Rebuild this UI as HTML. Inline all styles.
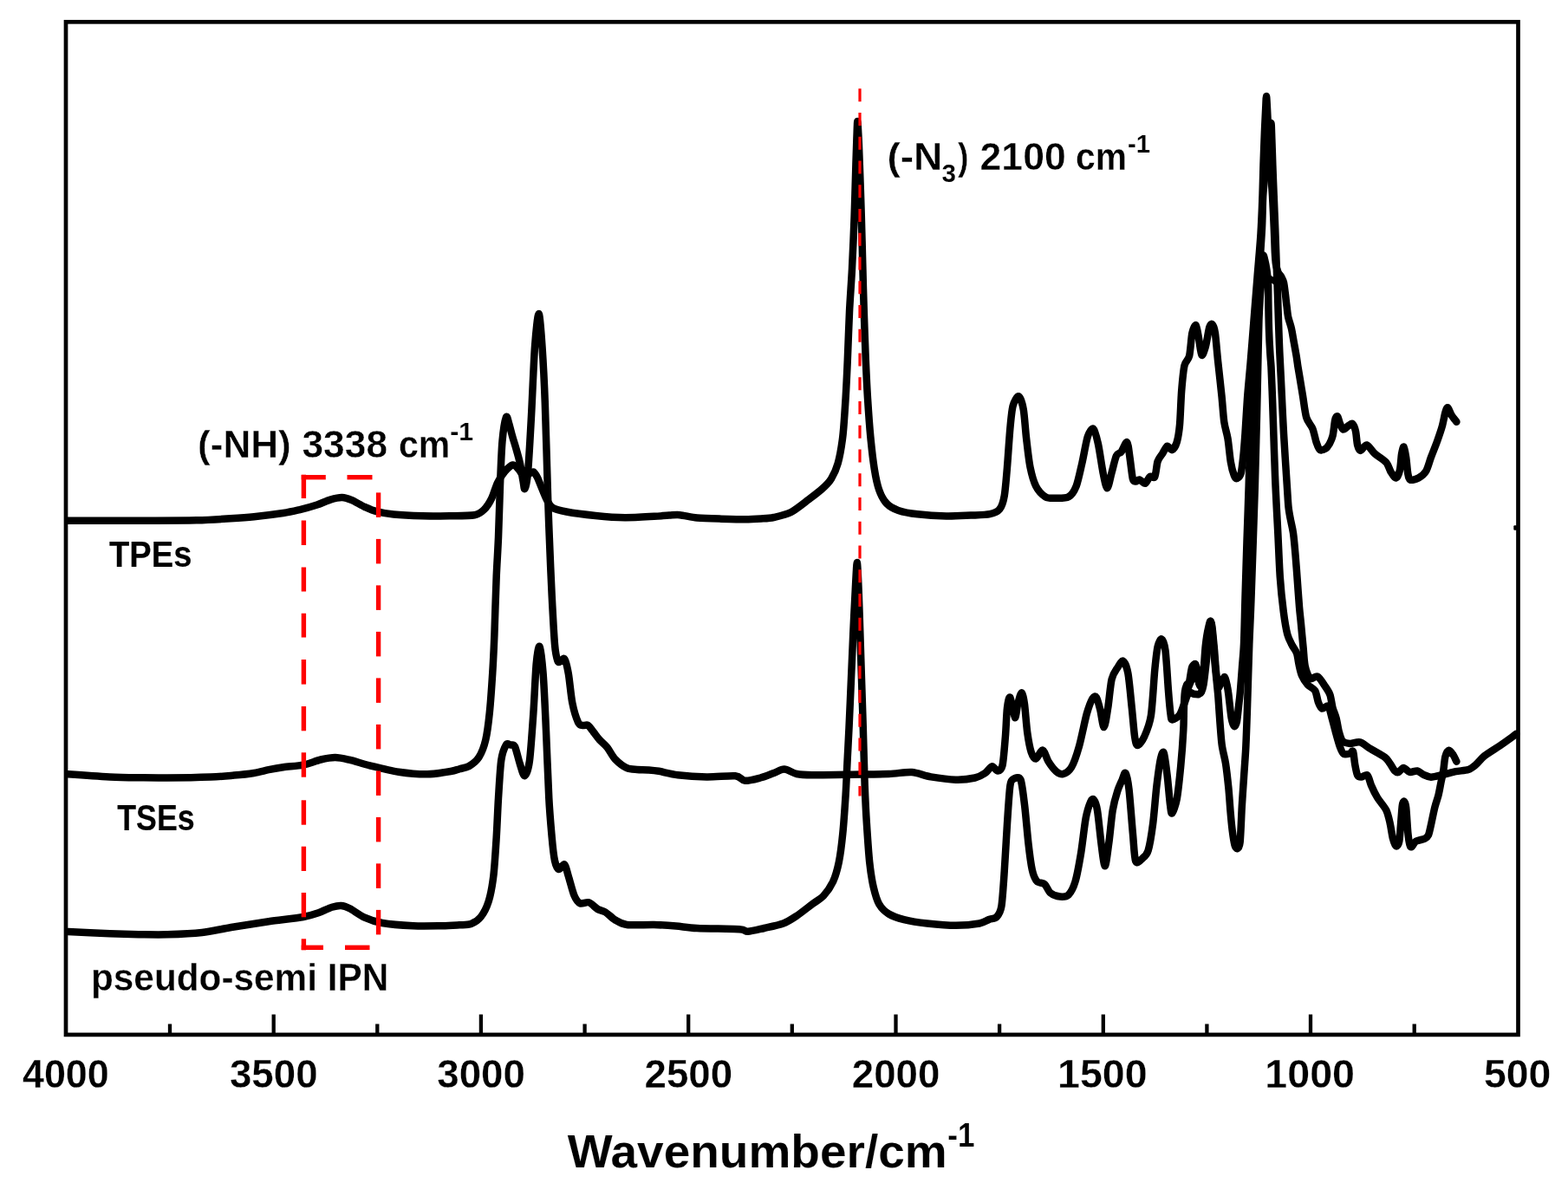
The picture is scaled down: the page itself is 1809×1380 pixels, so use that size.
<!DOCTYPE html>
<html lang="en"><head><meta charset="utf-8"><title>FTIR spectra</title>
<style>html,body{margin:0;padding:0;background:#fff}svg{display:block}</style></head>
<body>
<svg width="1809" height="1380" viewBox="0 0 1809 1380">
<rect x="0" y="0" width="1809" height="1380" fill="#fff"/>
<g>
<rect x="0" y="0" width="1809" height="1380" fill="#fff"/>
<path id="tpe" d="M78.6 600.8C88.7 600.8 129.0 600.9 150.0 600.8C171.0 600.7 210.3 600.7 226.7 600.3C243.1 599.9 256.6 598.9 266.0 598.3C275.4 597.7 284.4 597.1 293.0 596.2C301.6 595.3 319.3 593.1 326.7 592.0C334.1 590.9 339.5 589.6 345.0 588.3C350.5 587.0 360.7 584.2 365.8 582.5C370.9 580.8 376.9 577.8 381.0 576.6C385.1 575.4 391.1 573.9 394.6 574.0C398.1 574.1 402.3 575.6 406.0 577.2C409.7 578.8 417.0 583.2 421.0 585.0C425.0 586.8 429.7 589.0 434.4 590.2C439.1 591.4 446.5 592.8 454.0 593.5C461.5 594.2 477.6 595.0 487.0 595.3C496.4 595.6 511.4 595.4 520.0 595.3C528.6 595.2 542.0 595.3 547.5 594.3C553.0 593.3 555.7 590.7 558.5 588.0C561.3 585.3 564.8 579.9 567.0 575.5C569.2 571.1 571.8 561.5 574.0 557.0C576.2 552.5 580.0 546.9 582.5 544.0C585.0 541.1 589.4 536.9 591.6 536.5C593.8 536.1 596.2 539.2 598.0 541.0C599.8 542.8 602.3 548.1 604.0 549.0C605.7 549.9 608.4 547.6 610.0 547.0C611.6 546.4 614.0 543.9 615.4 544.5C616.8 545.1 618.7 548.6 620.0 551.0C621.3 553.4 622.7 557.7 624.3 561.4C625.9 565.1 629.1 573.5 631.0 577.0C632.9 580.5 634.6 584.1 637.8 586.0C641.0 587.9 646.5 589.2 653.5 590.5C660.5 591.8 677.4 594.0 687.0 595.0C696.6 596.0 711.4 597.2 721.0 597.3C730.6 597.4 747.4 596.2 754.6 595.8C761.8 595.4 767.8 594.8 772.0 594.6C776.2 594.4 779.7 593.8 784.3 594.2C788.9 594.6 797.7 596.9 804.2 597.5C810.7 598.1 822.2 598.4 830.0 598.6C837.8 598.8 852.7 599.2 859.5 599.2C866.3 599.2 873.3 598.8 878.0 598.5C882.7 598.2 887.8 598.1 892.7 597.0C897.6 595.9 907.0 593.9 912.6 591.0C918.2 588.1 927.5 580.5 932.5 576.7C937.5 572.9 944.2 567.9 948.0 564.5C951.8 561.1 956.4 556.6 959.0 552.4C961.6 548.2 964.8 541.6 966.7 534.7C968.6 527.8 971.0 514.4 972.3 503.7C973.6 493.0 974.8 472.0 975.6 459.5C976.4 447.0 977.2 429.4 977.8 415.3C978.4 401.2 979.3 374.9 980.0 360.0C980.7 345.1 982.2 325.6 983.0 310.0C983.8 294.4 985.0 267.0 985.6 250.0C986.2 233.0 987.0 202.8 987.4 190.0C987.8 177.2 988.1 167.1 988.4 160.0C988.7 152.9 989.0 140.0 989.3 140.0C989.6 140.0 990.2 152.9 990.6 160.0C991.0 167.1 991.3 177.2 991.8 190.0C992.3 202.8 993.3 233.0 993.8 250.0C994.3 267.0 995.0 294.4 995.4 310.0C995.8 325.6 996.3 345.1 996.8 360.0C997.3 374.9 998.2 401.2 998.8 415.3C999.4 429.4 1000.2 447.0 1001.0 459.5C1001.8 472.0 1003.2 492.1 1004.3 503.7C1005.4 515.3 1007.4 532.5 1008.8 541.3C1010.2 550.1 1012.3 560.0 1014.3 565.6C1016.3 571.2 1019.9 577.7 1023.0 581.0C1026.1 584.3 1031.4 587.2 1036.4 588.9C1041.4 590.6 1050.7 592.4 1058.5 593.3C1066.3 594.2 1083.0 595.3 1091.7 595.5C1100.4 595.7 1112.9 594.9 1120.0 594.6C1127.1 594.3 1137.3 594.2 1142.0 593.2C1146.7 592.2 1150.8 590.7 1153.2 587.7C1155.6 584.7 1157.5 579.1 1158.7 572.2C1159.9 565.3 1161.1 550.0 1162.0 539.0C1162.9 528.0 1164.4 504.8 1165.3 494.8C1166.2 484.8 1167.2 473.6 1168.6 468.3C1170.0 463.0 1173.6 456.6 1175.3 457.2C1177.0 457.8 1179.6 465.8 1180.8 472.7C1182.0 479.6 1183.0 496.4 1184.1 505.8C1185.2 515.2 1186.9 531.2 1188.5 539.0C1190.1 546.8 1192.7 556.2 1195.2 561.1C1197.7 566.0 1203.1 571.4 1206.2 573.3C1209.3 575.2 1213.5 574.8 1217.3 574.8C1221.1 574.8 1229.4 575.2 1232.8 573.3C1236.2 571.4 1239.4 566.6 1241.6 561.1C1243.8 555.6 1246.4 542.7 1248.3 534.6C1250.2 526.5 1253.0 509.2 1254.9 503.6C1256.8 498.0 1259.8 493.5 1261.5 494.8C1263.2 496.1 1265.4 505.3 1267.0 512.5C1268.6 519.7 1271.1 538.4 1272.6 545.6C1274.1 552.8 1276.0 563.3 1277.4 563.3C1278.8 563.3 1281.0 550.9 1282.5 545.6C1284.0 540.3 1286.4 529.1 1288.0 525.7C1289.6 522.3 1291.9 523.5 1293.6 521.3C1295.3 519.1 1298.8 509.4 1300.2 510.3C1301.6 511.2 1302.6 522.0 1303.5 528.0C1304.4 534.0 1305.9 548.4 1306.8 552.3C1307.7 556.2 1309.1 555.4 1310.2 555.6C1311.3 555.8 1313.0 553.1 1314.6 553.4C1316.2 553.7 1319.5 558.3 1321.2 557.8C1322.9 557.3 1325.1 551.1 1326.7 550.0C1328.3 548.9 1331.0 552.5 1332.3 550.0C1333.6 547.5 1334.4 536.2 1335.6 532.4C1336.8 528.6 1339.5 526.0 1341.1 523.5C1342.7 521.0 1345.0 515.3 1346.6 514.7C1348.2 514.1 1350.6 519.7 1352.2 519.1C1353.8 518.5 1356.5 514.4 1357.7 510.3C1358.9 506.2 1360.2 498.9 1361.0 490.4C1361.8 481.9 1362.4 460.3 1363.2 450.6C1364.0 440.9 1365.2 427.4 1366.5 421.8C1367.8 416.2 1370.8 416.1 1372.1 410.8C1373.4 405.5 1374.3 389.2 1375.4 384.2C1376.5 379.2 1378.7 374.5 1379.8 375.4C1380.9 376.3 1382.2 386.0 1383.1 390.9C1384.0 395.8 1385.3 408.5 1386.4 409.7C1387.5 410.9 1389.6 404.2 1390.9 399.7C1392.2 395.2 1394.2 381.2 1395.3 377.6C1396.4 374.0 1397.7 373.4 1398.6 374.3C1399.5 375.2 1401.0 378.1 1401.9 384.2C1402.8 390.3 1404.1 407.1 1405.2 417.4C1406.3 427.7 1408.5 447.1 1409.5 457.0C1410.5 466.9 1411.3 480.1 1412.3 487.0C1413.3 493.9 1415.4 499.5 1416.5 506.0C1417.6 512.5 1418.8 526.7 1419.8 532.7C1420.8 538.7 1422.8 545.9 1423.8 548.6C1424.8 551.3 1426.1 552.4 1427.2 552.0C1428.3 551.6 1430.7 549.7 1431.7 546.0C1432.7 542.3 1433.7 532.5 1434.4 526.0C1435.1 519.5 1435.8 509.4 1436.5 500.0C1437.2 490.6 1438.2 471.3 1439.0 460.0C1439.8 448.7 1441.4 432.8 1442.5 420.0C1443.6 407.2 1445.4 384.2 1446.5 370.0C1447.6 355.8 1449.4 334.2 1450.5 320.0C1451.6 305.8 1453.7 283.3 1454.5 270.0C1455.3 256.7 1456.1 237.3 1456.5 226.0C1456.9 214.7 1457.1 200.8 1457.5 190.0C1457.9 179.2 1458.6 159.2 1459.0 150.0C1459.4 140.8 1459.9 130.5 1460.2 125.0C1460.5 119.5 1460.7 111.0 1461.0 111.0C1461.3 111.0 1461.7 119.5 1462.0 125.0C1462.3 130.5 1462.7 140.8 1463.2 150.0C1463.7 159.2 1464.8 179.2 1465.5 190.0C1466.2 200.8 1467.4 215.7 1468.0 226.0C1468.6 236.3 1469.4 253.9 1469.8 263.0C1470.2 272.1 1470.5 284.1 1470.8 290.0C1471.1 295.9 1471.5 301.6 1472.0 305.0C1472.5 308.4 1473.7 312.0 1474.5 314.0C1475.3 316.0 1477.1 317.3 1478.0 319.0C1478.9 320.7 1480.3 323.0 1481.0 326.0C1481.7 329.0 1482.5 336.2 1483.0 340.0C1483.5 343.8 1484.0 349.3 1484.5 353.0C1485.0 356.7 1485.4 362.3 1486.2 366.0C1487.0 369.7 1489.1 375.2 1490.0 379.3C1490.9 383.4 1492.0 390.7 1492.8 395.0C1493.6 399.3 1494.8 406.0 1495.5 410.0C1496.2 414.0 1496.8 419.3 1497.4 423.0C1498.0 426.7 1498.8 431.3 1499.6 436.0C1500.4 440.7 1501.8 449.5 1502.9 456.0C1504.0 462.5 1505.6 476.3 1507.2 481.8C1508.8 487.3 1512.8 490.6 1514.4 494.7C1516.0 498.8 1517.5 507.0 1518.7 510.5C1519.9 514.0 1521.3 518.4 1523.0 519.2C1524.7 520.0 1528.9 518.5 1530.9 516.3C1532.9 514.1 1536.1 507.9 1537.4 503.4C1538.7 498.9 1539.4 488.0 1540.2 484.7C1541.0 481.4 1542.3 479.8 1543.1 480.4C1543.9 481.0 1545.1 486.9 1546.0 489.0C1546.9 491.1 1548.2 495.2 1549.6 495.5C1551.0 495.8 1554.5 491.9 1556.0 491.0C1557.5 490.1 1559.3 488.1 1560.4 489.0C1561.5 489.9 1563.2 494.1 1564.0 497.6C1564.8 501.1 1565.3 510.2 1566.1 513.4C1566.9 516.6 1568.2 519.9 1569.7 519.9C1571.2 519.9 1574.6 512.9 1576.9 513.4C1579.2 513.9 1583.0 520.7 1586.2 523.5C1589.4 526.3 1596.6 530.5 1599.2 533.5C1601.8 536.5 1603.3 542.5 1604.9 545.0C1606.5 547.5 1609.3 551.9 1610.7 551.5C1612.1 551.1 1614.1 546.2 1615.0 542.2C1615.9 538.2 1616.4 527.3 1617.1 523.5C1617.8 519.7 1618.9 515.0 1619.6 515.6C1620.3 516.2 1621.5 523.4 1622.2 527.8C1622.9 532.2 1623.6 542.8 1624.3 546.5C1625.0 550.2 1625.5 553.0 1627.2 553.7C1628.9 554.4 1634.0 552.9 1636.5 551.5C1639.0 550.1 1643.2 547.0 1645.2 543.6C1647.2 540.2 1649.1 532.7 1650.9 527.8C1652.7 522.9 1656.3 514.2 1658.1 509.1C1659.9 504.0 1662.5 496.6 1663.8 491.9C1665.1 487.2 1666.5 479.1 1667.4 476.0C1668.3 472.9 1669.3 469.9 1670.3 470.3C1671.3 470.7 1673.2 476.7 1674.6 479.0C1676.0 481.3 1679.6 485.7 1680.4 486.8" fill="none" stroke="#000" stroke-width="8.5" stroke-linejoin="round" stroke-linecap="round"/>
<path id="tse" d="M78.6 893.3C85.4 893.8 115.2 895.9 126.7 896.5C138.2 897.1 150.6 897.2 160.0 897.3C169.4 897.4 181.2 897.6 193.0 897.5C204.8 897.4 232.1 896.9 243.0 896.5C253.9 896.1 262.9 895.2 270.0 894.6C277.1 894.0 287.3 892.9 293.0 892.0C298.7 891.1 305.2 889.2 310.0 888.2C314.8 887.2 321.0 886.0 326.7 885.2C332.4 884.4 343.9 883.8 350.0 882.6C356.1 881.4 364.8 877.7 370.0 876.5C375.2 875.3 382.0 874.0 386.7 874.0C391.4 874.0 397.3 875.4 403.0 876.7C408.7 878.0 418.6 881.3 426.7 883.3C434.8 885.3 450.6 889.3 460.0 890.7C469.4 892.1 484.5 893.4 493.0 893.3C501.5 893.2 514.8 890.9 520.0 890.0C525.2 889.1 527.0 888.1 530.0 887.3C533.0 886.4 538.0 885.9 541.2 884.0C544.4 882.1 549.8 878.1 552.5 873.8C555.2 869.5 558.6 860.9 560.3 853.6C562.0 846.3 563.7 833.0 564.8 822.2C565.9 811.4 567.4 789.9 568.2 777.2C569.0 764.5 569.8 748.2 570.4 732.3C571.0 716.4 572.0 680.9 572.7 665.0C573.4 649.1 574.4 634.9 575.0 620.0C575.6 605.1 576.4 575.7 577.0 560.0C577.6 544.3 578.5 520.1 579.5 509.0C580.5 497.9 582.8 484.5 583.9 481.5C585.0 478.5 586.0 485.0 587.0 488.0C588.0 491.0 589.8 498.8 591.0 503.0C592.2 507.2 594.2 513.5 595.5 518.0C596.8 522.5 598.9 529.8 600.0 535.0C601.1 540.2 602.7 550.9 603.5 555.0C604.3 559.1 604.7 565.4 605.5 564.0C606.3 562.6 607.9 556.9 609.0 545.0C610.1 533.1 611.9 500.5 613.0 480.0C614.1 459.5 615.8 416.7 617.0 400.0C618.2 383.3 620.4 362.0 621.6 362.0C622.8 362.0 624.5 385.4 625.5 400.0C626.5 414.6 627.9 439.7 628.8 464.8C629.7 489.9 631.5 555.0 632.2 577.0C632.9 599.0 633.2 604.4 633.8 620.0C634.4 635.6 635.8 669.9 636.7 687.4C637.6 704.9 639.1 732.8 640.0 743.5C640.9 754.2 642.4 759.8 643.4 762.6C644.4 765.4 645.9 763.3 647.0 763.0C648.1 762.7 650.1 758.4 651.3 760.4C652.5 762.4 654.5 770.0 655.8 777.2C657.1 784.4 658.7 803.0 660.3 811.0C661.9 819.0 665.3 829.7 667.0 833.4C668.7 837.1 670.4 836.5 672.0 837.0C673.6 837.5 676.5 835.7 678.3 836.8C680.1 837.9 683.1 842.6 685.0 845.0C686.9 847.4 689.5 851.1 691.7 853.6C693.9 856.1 698.2 859.4 700.7 862.6C703.2 865.8 706.5 872.7 709.7 876.0C712.9 879.3 719.6 884.5 723.2 886.2C726.8 887.9 731.5 887.7 735.0 888.0C738.5 888.3 744.4 888.1 747.9 888.4C751.4 888.7 755.2 889.0 760.0 889.8C764.8 890.6 774.2 893.3 782.0 894.2C789.8 895.1 805.9 896.2 815.3 896.4C824.7 896.6 842.1 894.7 848.4 895.3C854.7 895.9 855.4 900.5 859.5 900.8C863.6 901.1 872.5 898.7 877.2 897.5C881.9 896.3 888.8 893.4 892.7 892.0C896.6 890.6 901.0 887.5 904.8 887.6C908.6 887.7 914.7 892.1 919.2 893.0C923.7 893.9 928.1 894.1 936.9 894.2C945.7 894.3 968.5 893.9 981.0 893.7C993.5 893.5 1015.3 893.4 1025.3 893.0C1035.3 892.6 1045.0 890.5 1051.9 891.0C1058.8 891.5 1066.8 895.2 1074.0 896.4C1081.2 897.6 1095.5 899.5 1102.7 899.7C1109.9 899.9 1120.0 898.6 1124.8 897.5C1129.6 896.4 1133.8 893.9 1136.6 892.0C1139.4 890.1 1142.4 884.7 1144.4 884.3C1146.4 883.9 1149.3 889.7 1151.0 889.5C1152.7 889.3 1155.2 888.8 1156.5 883.2C1157.8 877.6 1159.1 859.4 1159.9 850.0C1160.7 840.6 1161.2 823.3 1162.0 816.9C1162.8 810.5 1164.1 803.1 1165.4 804.7C1166.7 806.3 1169.7 826.9 1170.9 828.0C1172.1 829.1 1173.1 816.6 1174.2 812.5C1175.3 808.4 1177.5 799.2 1178.6 799.2C1179.7 799.2 1181.1 805.9 1182.0 812.5C1182.9 819.1 1184.2 837.8 1185.3 845.6C1186.4 853.4 1188.3 863.6 1189.7 867.8C1191.1 872.0 1193.3 875.8 1195.2 875.5C1197.1 875.2 1201.0 865.0 1203.0 865.5C1205.0 866.0 1207.4 875.3 1209.6 878.8C1211.8 882.3 1216.0 887.9 1218.4 889.9C1220.8 891.9 1223.7 893.8 1226.2 893.2C1228.7 892.6 1233.4 889.9 1236.1 885.4C1238.8 880.9 1242.5 869.9 1245.0 861.1C1247.5 852.3 1251.6 831.3 1253.8 823.5C1256.0 815.7 1258.9 808.5 1260.5 805.8C1262.1 803.1 1263.7 802.8 1264.9 804.7C1266.1 806.6 1268.1 814.2 1269.3 819.1C1270.5 824.0 1272.4 839.3 1273.7 839.0C1275.0 838.7 1276.9 824.7 1278.2 816.9C1279.5 809.1 1281.0 790.3 1282.6 783.7C1284.2 777.1 1287.3 773.5 1289.2 770.5C1291.1 767.5 1294.1 761.8 1295.8 762.7C1297.5 763.6 1300.0 769.4 1301.4 777.1C1302.8 784.8 1304.7 806.6 1305.8 816.9C1306.9 827.2 1308.2 843.9 1309.1 850.0C1310.0 856.1 1310.8 860.0 1312.4 860.0C1314.0 860.0 1318.0 854.9 1320.2 850.0C1322.4 845.1 1326.2 836.7 1327.9 825.7C1329.6 814.7 1331.2 784.0 1332.3 772.7C1333.4 761.4 1334.5 751.1 1335.6 746.1C1336.7 741.1 1339.0 736.9 1340.3 737.5C1341.6 738.1 1343.4 742.5 1344.5 750.6C1345.6 758.7 1347.0 784.4 1347.8 794.8C1348.6 805.2 1349.8 819.0 1350.5 824.0C1351.2 829.0 1351.0 830.3 1352.5 830.4C1354.0 830.5 1358.9 827.7 1360.9 825.0C1362.9 822.3 1365.1 814.9 1366.4 811.6C1367.7 808.3 1369.0 803.8 1370.0 802.0C1371.0 800.2 1372.6 799.2 1373.5 799.0C1374.4 798.8 1375.7 800.2 1376.5 800.5C1377.3 800.8 1378.6 800.9 1379.5 801.0C1380.4 801.1 1382.1 801.4 1383.0 801.0C1383.9 800.6 1385.2 800.1 1386.0 798.5C1386.8 796.9 1387.8 794.0 1388.5 790.0C1389.2 786.0 1390.2 776.8 1391.0 770.0C1391.8 763.2 1393.1 749.3 1394.0 742.0C1394.9 734.7 1396.5 718.3 1397.4 718.7C1398.3 719.1 1399.8 737.0 1400.6 745.0C1401.4 753.0 1402.3 768.2 1403.0 775.0C1403.7 781.8 1404.7 791.3 1405.5 793.0C1406.3 794.7 1408.0 788.7 1409.0 787.0C1410.0 785.3 1412.0 780.8 1412.9 781.2C1413.8 781.6 1414.9 787.3 1415.5 790.0C1416.1 792.7 1416.6 795.2 1417.3 800.6C1418.0 806.0 1419.7 822.7 1420.6 828.0C1421.5 833.3 1423.1 837.4 1424.0 838.0C1424.9 838.6 1426.3 835.3 1427.0 832.0C1427.7 828.7 1428.5 819.4 1429.0 815.0C1429.5 810.6 1430.0 807.0 1430.6 800.6C1431.2 794.2 1432.4 778.2 1433.0 770.0C1433.6 761.8 1434.5 754.3 1435.0 743.0C1435.5 731.7 1436.0 706.7 1436.5 690.0C1437.0 673.3 1437.9 643.4 1438.5 625.0C1439.1 606.6 1440.1 580.5 1440.7 560.0C1441.3 539.5 1442.2 502.7 1443.0 480.0C1443.8 457.3 1445.5 418.4 1446.5 400.0C1447.5 381.6 1449.1 362.8 1450.0 350.0C1450.9 337.2 1452.2 322.3 1453.0 310.0C1453.8 297.7 1455.4 274.9 1456.0 263.0C1456.6 251.1 1456.7 234.9 1457.2 226.0C1457.7 217.1 1458.7 208.6 1459.5 200.0C1460.3 191.4 1462.0 173.2 1463.0 165.0C1464.0 156.8 1465.7 142.7 1466.3 142.0C1466.9 141.3 1467.0 153.2 1467.3 160.0C1467.6 166.8 1468.0 180.7 1468.3 190.0C1468.6 199.3 1469.3 215.7 1469.7 226.0C1470.1 236.3 1470.8 252.5 1471.2 263.0C1471.6 273.5 1472.1 289.1 1472.5 300.0C1472.9 310.9 1473.6 328.7 1474.0 340.0C1474.4 351.3 1474.9 370.1 1475.3 380.0C1475.7 389.9 1476.0 400.1 1476.5 410.0C1477.0 419.9 1477.9 437.2 1478.5 450.0C1479.1 462.8 1480.1 484.4 1481.0 500.0C1481.9 515.6 1484.0 548.0 1484.8 560.0C1485.6 572.0 1485.9 579.3 1486.5 585.0C1487.1 590.7 1488.2 595.8 1489.0 600.0C1489.8 604.2 1491.2 609.3 1492.0 615.0C1492.8 620.7 1493.9 632.8 1494.5 640.0C1495.1 647.2 1495.9 657.5 1496.5 666.0C1497.1 674.5 1498.4 692.4 1499.0 700.0C1499.6 707.6 1500.4 713.4 1501.0 720.0C1501.6 726.6 1502.8 739.6 1503.5 746.5C1504.2 753.4 1504.6 763.5 1505.7 768.7C1506.8 773.9 1509.5 781.3 1511.5 783.0C1513.5 784.7 1517.6 779.3 1520.0 780.5C1522.4 781.7 1526.6 788.7 1528.7 791.7C1530.8 794.7 1533.3 798.3 1534.5 801.8C1535.7 805.3 1536.4 812.3 1537.4 816.2C1538.4 820.1 1540.7 825.1 1541.7 829.0C1542.7 832.9 1543.6 839.8 1544.6 843.5C1545.6 847.2 1547.1 853.0 1548.9 855.0C1550.7 857.0 1554.7 857.7 1557.5 857.9C1560.3 858.1 1565.7 855.6 1569.0 856.4C1572.3 857.2 1576.4 861.1 1580.5 863.6C1584.6 866.1 1594.4 871.3 1597.7 873.7C1601.0 876.1 1601.9 878.6 1603.5 880.8C1605.1 883.0 1607.8 888.1 1609.2 889.5C1610.6 890.9 1612.1 891.4 1613.5 890.9C1614.9 890.4 1617.5 885.9 1619.3 885.9C1621.1 885.9 1624.3 890.4 1626.5 890.9C1628.7 891.4 1632.9 889.1 1635.1 889.5C1637.3 889.9 1640.1 892.8 1642.3 893.8C1644.5 894.8 1647.6 896.7 1650.9 896.7C1654.2 896.7 1661.2 894.7 1665.3 893.8C1669.4 892.9 1675.6 891.0 1679.7 890.2C1683.8 889.4 1690.7 889.1 1694.0 888.0C1697.3 886.9 1700.1 884.5 1702.7 882.3C1705.3 880.1 1708.8 875.3 1712.7 872.2C1716.6 869.1 1725.5 863.7 1730.0 860.7C1734.5 857.7 1741.6 852.7 1744.3 850.7C1747.0 848.7 1748.6 847.4 1749.3 846.8" fill="none" stroke="#000" stroke-width="8.5" stroke-linejoin="round" stroke-linecap="round"/>
<path id="ipn" d="M78.6 1075.0C85.4 1075.3 115.2 1076.8 126.7 1077.3C138.2 1077.8 150.6 1078.1 160.0 1078.2C169.4 1078.3 182.7 1078.6 193.0 1078.3C203.3 1078.0 222.6 1077.2 233.0 1076.0C243.4 1074.8 255.8 1071.8 266.7 1070.0C277.6 1068.2 298.2 1065.0 310.0 1063.3C321.8 1061.6 341.8 1059.5 350.0 1058.0C358.2 1056.5 363.3 1054.6 368.0 1053.0C372.7 1051.4 379.4 1047.9 383.0 1046.8C386.6 1045.7 390.6 1044.8 393.5 1045.0C396.4 1045.2 399.7 1046.4 403.5 1048.3C407.3 1050.2 414.7 1055.9 420.0 1058.3C425.3 1060.7 433.0 1063.6 441.0 1065.0C449.0 1066.4 466.9 1067.8 476.7 1068.3C486.5 1068.8 502.4 1068.4 510.0 1068.3C517.6 1068.2 525.3 1067.6 530.0 1067.3C534.7 1067.0 540.0 1067.3 543.5 1066.0C547.0 1064.7 551.8 1061.7 554.7 1058.0C557.6 1054.3 561.6 1046.7 563.7 1040.0C565.8 1033.3 568.0 1021.5 569.3 1011.0C570.6 1000.5 571.9 978.8 572.7 966.0C573.5 953.2 574.2 933.6 575.0 921.0C575.8 908.4 577.0 885.7 578.3 877.0C579.6 868.3 582.4 862.0 583.9 859.5C585.4 857.0 587.6 859.2 589.0 859.5C590.4 859.8 592.5 858.5 594.0 861.5C595.5 864.5 598.0 875.8 599.6 880.6C601.2 885.4 603.6 895.5 605.2 895.2C606.8 894.9 609.5 888.6 610.9 878.3C612.3 868.0 614.3 838.1 615.4 822.2C616.5 806.3 617.7 776.8 618.7 766.0C619.7 755.2 621.4 744.4 622.5 746.0C623.6 747.6 625.5 763.5 626.6 777.2C627.7 790.9 629.1 822.6 630.0 843.0C630.9 863.4 632.4 903.6 633.3 921.0C634.2 938.4 635.8 955.8 636.7 966.0C637.6 976.2 638.9 987.8 640.0 993.0C641.1 998.2 643.0 1002.4 644.6 1003.0C646.2 1003.6 649.7 996.4 651.3 997.5C652.9 998.6 654.2 1005.9 655.8 1011.0C657.4 1016.1 660.6 1029.0 662.5 1033.4C664.4 1037.8 666.9 1041.3 669.3 1042.4C671.7 1043.5 676.5 1040.4 679.4 1041.3C682.3 1042.2 686.8 1047.4 689.5 1049.0C692.2 1050.6 695.6 1050.7 698.5 1052.5C701.4 1054.3 706.2 1059.4 709.7 1061.5C713.2 1063.6 716.8 1066.2 723.2 1067.0C729.6 1067.8 746.6 1066.8 754.6 1067.0C762.6 1067.2 773.0 1067.9 780.0 1068.5C787.0 1069.1 793.9 1070.5 804.2 1071.0C814.5 1071.5 844.6 1071.7 852.9 1072.2C861.2 1072.7 858.7 1075.0 862.8 1074.8C866.9 1074.6 875.8 1072.3 881.6 1071.0C887.4 1069.7 898.4 1067.5 903.7 1065.5C909.0 1063.5 914.5 1059.8 919.2 1056.7C923.9 1053.6 932.5 1046.7 936.9 1043.4C941.3 1040.1 946.8 1037.3 950.2 1033.5C953.6 1029.7 958.7 1022.4 961.2 1016.9C963.7 1011.4 966.2 1002.6 967.8 994.8C969.4 987.0 971.2 972.6 972.3 961.6C973.4 950.6 974.8 929.9 975.6 917.4C976.4 904.9 977.2 884.2 977.8 873.2C978.4 862.2 978.9 851.8 979.5 840.0C980.1 828.2 981.0 805.6 981.7 790.0C982.4 774.4 983.6 745.6 984.3 730.0C985.0 714.4 986.2 691.5 986.8 680.0C987.4 668.5 988.3 649.0 988.8 649.0C989.3 649.0 990.1 668.5 990.6 680.0C991.1 691.5 991.8 714.4 992.3 730.0C992.8 745.6 993.7 774.4 994.2 790.0C994.7 805.6 995.3 823.5 995.8 840.0C996.3 856.5 997.1 890.6 997.7 906.3C998.3 922.0 999.1 938.1 999.9 950.6C1000.7 963.1 1002.1 984.5 1003.2 994.8C1004.3 1005.1 1006.1 1016.6 1007.7 1023.5C1009.3 1030.4 1011.8 1039.0 1014.3 1043.4C1016.8 1047.8 1021.2 1052.0 1025.3 1054.5C1029.4 1057.0 1036.7 1059.5 1043.0 1061.1C1049.3 1062.7 1061.1 1064.6 1069.6 1065.5C1078.1 1066.4 1094.1 1067.8 1102.7 1067.8C1111.3 1067.8 1124.6 1066.5 1130.0 1065.5C1135.4 1064.5 1138.2 1062.1 1141.0 1061.0C1143.8 1059.9 1148.0 1060.0 1150.0 1057.8C1152.0 1055.6 1154.2 1053.0 1155.4 1045.6C1156.6 1038.2 1157.8 1019.3 1158.7 1005.8C1159.6 992.3 1161.1 964.7 1162.0 950.6C1162.9 936.5 1164.3 913.7 1165.4 906.3C1166.5 898.9 1168.1 899.5 1169.8 898.6C1171.5 897.7 1175.8 895.5 1177.5 899.7C1179.2 903.9 1180.7 918.1 1182.0 928.4C1183.3 938.7 1185.2 962.0 1186.4 972.7C1187.6 983.4 1189.4 997.3 1190.8 1003.6C1192.2 1009.9 1194.3 1014.5 1196.3 1016.9C1198.3 1019.3 1203.0 1018.3 1205.2 1020.2C1207.4 1022.1 1209.3 1028.2 1211.8 1030.2C1214.3 1032.2 1219.9 1034.3 1222.9 1034.6C1225.9 1034.9 1230.3 1034.9 1232.8 1032.4C1235.3 1029.9 1238.6 1023.8 1240.6 1016.9C1242.6 1010.0 1245.5 994.0 1247.2 983.7C1248.9 973.4 1251.1 952.2 1252.7 943.9C1254.3 935.6 1256.9 928.1 1258.2 925.1C1259.5 922.1 1260.9 921.5 1262.0 922.9C1263.1 924.3 1264.8 927.9 1266.0 935.0C1267.2 942.1 1269.2 963.6 1270.4 972.7C1271.6 981.8 1273.5 999.2 1274.8 999.2C1276.1 999.2 1278.0 981.8 1279.3 972.7C1280.6 963.6 1282.3 943.5 1283.7 935.0C1285.1 926.5 1287.6 918.0 1289.2 913.0C1290.8 908.0 1293.4 902.7 1294.7 899.7C1296.0 896.7 1297.4 890.4 1298.5 892.0C1299.6 893.6 1301.3 900.9 1302.5 910.8C1303.7 920.7 1305.8 949.9 1306.9 961.6C1308.0 973.3 1308.6 989.6 1310.2 993.7C1311.8 997.8 1316.0 992.1 1318.0 990.4C1320.0 988.7 1322.9 987.1 1324.6 981.5C1326.3 975.9 1328.7 961.3 1330.1 950.6C1331.5 939.9 1333.2 917.0 1334.5 906.3C1335.8 895.6 1337.8 880.7 1339.0 875.4C1340.2 870.1 1341.6 865.9 1342.7 868.7C1343.8 871.5 1345.7 886.8 1346.7 895.3C1347.7 903.8 1349.2 922.3 1350.0 928.4C1350.8 934.5 1351.1 939.3 1352.2 938.4C1353.3 937.5 1356.4 929.5 1357.8 921.8C1359.2 914.1 1361.1 895.5 1362.2 884.2C1363.3 872.9 1364.8 851.5 1365.3 842.0C1365.8 832.5 1365.7 823.2 1365.9 817.0C1366.1 810.8 1366.5 801.8 1367.0 798.0C1367.5 794.2 1368.5 791.6 1369.2 790.0C1369.9 788.4 1371.4 788.7 1372.0 787.0C1372.6 785.3 1373.1 780.5 1373.6 778.0C1374.1 775.5 1374.5 771.3 1375.3 769.6C1376.1 767.9 1378.2 765.5 1379.1 766.3C1380.0 767.1 1380.9 771.8 1381.5 775.0C1382.1 778.2 1382.9 786.7 1383.5 789.0C1384.1 791.3 1385.3 793.5 1386.0 791.5C1386.7 789.5 1387.8 781.6 1388.5 775.0C1389.2 768.4 1390.0 752.1 1390.8 745.0C1391.6 737.9 1393.1 728.7 1394.0 725.0C1394.9 721.3 1396.3 712.7 1397.4 718.7C1398.5 724.7 1400.7 755.8 1401.8 767.4C1402.9 779.0 1404.4 793.1 1405.1 800.6C1405.8 808.1 1405.9 811.8 1406.5 820.0C1407.1 828.2 1408.5 850.1 1409.6 858.7C1410.7 867.3 1412.9 873.8 1414.0 880.8C1415.1 887.8 1416.5 900.6 1417.3 908.4C1418.1 916.2 1418.9 928.9 1419.5 936.0C1420.1 943.1 1421.0 952.7 1421.7 958.2C1422.4 963.7 1423.7 972.1 1424.5 975.0C1425.3 977.9 1426.6 979.4 1427.5 979.0C1428.4 978.6 1429.8 978.9 1430.6 972.0C1431.4 965.1 1432.2 941.2 1432.8 930.6C1433.4 920.0 1434.4 906.8 1435.0 897.4C1435.6 888.0 1436.6 875.2 1437.2 864.2C1437.8 853.2 1438.3 837.2 1438.9 820.0C1439.5 802.8 1440.6 761.4 1441.3 743.0C1442.0 724.6 1442.6 715.9 1443.5 690.0C1444.4 664.1 1447.0 589.8 1447.9 560.0C1448.8 530.2 1449.5 501.2 1450.0 480.0C1450.5 458.8 1451.2 425.6 1451.5 410.0C1451.8 394.4 1452.1 379.1 1452.4 370.0C1452.7 360.9 1453.3 351.7 1453.6 346.0C1453.9 340.3 1454.5 334.0 1454.8 330.0C1455.1 326.0 1455.2 321.7 1455.4 318.0C1455.6 314.3 1455.7 307.3 1456.0 304.0C1456.3 300.7 1456.8 295.1 1457.3 294.5C1457.8 293.9 1458.6 297.5 1459.2 300.0C1459.8 302.5 1461.0 308.3 1461.5 312.0C1462.0 315.7 1462.7 321.2 1463.0 326.0C1463.3 330.8 1463.2 338.4 1463.3 346.0C1463.4 353.6 1463.7 370.9 1464.0 380.0C1464.3 389.1 1465.1 403.9 1465.5 410.0C1465.9 416.1 1466.1 415.9 1466.5 423.0C1466.9 430.1 1467.5 446.3 1468.0 460.0C1468.5 473.7 1469.5 505.8 1470.0 520.0C1470.5 534.2 1470.9 546.8 1471.5 560.0C1472.1 573.2 1473.4 598.0 1474.2 613.0C1475.0 628.0 1475.9 652.8 1476.8 666.0C1477.7 679.2 1479.6 696.6 1480.8 706.0C1482.0 715.4 1483.9 726.5 1485.3 732.0C1486.7 737.5 1489.5 742.0 1491.0 745.0C1492.5 748.0 1494.9 750.5 1496.0 753.5C1497.1 756.5 1497.7 762.7 1498.5 766.4C1499.3 770.1 1500.6 776.4 1502.0 779.7C1503.4 783.0 1506.4 787.5 1508.6 790.0C1510.8 792.5 1515.5 794.2 1517.2 797.0C1518.9 799.8 1519.7 807.1 1520.8 810.0C1521.9 812.9 1523.6 816.9 1525.2 817.6C1526.8 818.3 1530.8 813.5 1532.3 814.7C1533.8 815.9 1534.8 821.7 1536.0 826.0C1537.2 830.3 1539.6 839.9 1541.0 845.0C1542.4 850.1 1544.7 858.5 1546.0 862.0C1547.3 865.5 1548.7 869.0 1550.3 870.0C1551.9 871.0 1556.0 869.8 1557.5 869.4C1559.0 869.0 1560.2 865.2 1561.0 867.0C1561.8 868.8 1562.5 878.1 1563.2 882.0C1563.9 885.9 1565.1 892.4 1566.1 894.5C1567.1 896.6 1568.8 896.6 1570.4 896.6C1572.0 896.6 1576.0 893.2 1577.6 894.5C1579.2 895.8 1580.3 902.3 1581.9 906.0C1583.5 909.7 1586.6 916.3 1589.1 920.4C1591.6 924.5 1597.2 930.6 1599.2 934.7C1601.2 938.8 1602.4 944.4 1603.5 949.1C1604.6 953.8 1606.0 963.9 1607.0 967.8C1608.0 971.7 1609.7 976.0 1610.7 976.4C1611.7 976.8 1613.5 975.0 1614.3 970.7C1615.1 966.4 1615.9 952.1 1616.4 946.2C1616.9 940.3 1617.4 932.0 1617.9 929.0C1618.4 926.0 1619.4 924.3 1620.0 924.7C1620.6 925.1 1621.6 926.8 1622.2 931.9C1622.8 937.0 1623.7 954.5 1624.3 960.6C1624.9 966.7 1625.9 972.7 1626.5 975.0C1627.1 977.3 1627.6 977.6 1628.6 977.0C1629.6 976.4 1631.6 972.0 1633.7 970.7C1635.8 969.4 1641.7 968.8 1643.7 967.8C1645.7 966.8 1647.0 965.7 1648.0 963.5C1649.0 961.3 1649.9 956.5 1650.9 952.0C1651.9 947.5 1654.0 936.8 1655.2 931.9C1656.4 927.0 1658.5 921.6 1659.5 917.5C1660.5 913.4 1661.6 907.1 1662.4 903.0C1663.2 898.9 1664.6 893.0 1665.3 888.7C1666.0 884.5 1666.5 876.3 1667.4 873.0C1668.3 869.7 1670.5 865.9 1671.8 865.7C1673.1 865.5 1675.6 869.7 1676.8 871.5C1678.0 873.3 1679.9 877.7 1680.4 878.7" fill="none" stroke="#000" stroke-width="8.5" stroke-linejoin="round" stroke-linecap="round"/>
<path id="bridge" d="M1466.5 322L1471.5 325.5" fill="none" stroke="#000" stroke-width="7" stroke-linecap="round"/>
<path id="blobfill" d="M1371.5 793L1376 782L1380 780L1383.5 790L1387 790" fill="none" stroke="#000" stroke-width="7.7" stroke-linecap="round" stroke-linejoin="round"/>
<rect x="1746.3" y="606.3" width="4" height="5.4" rx="1" fill="#000"/>
<rect x="76.0" y="25.3" width="1675.5" height="1168.6" fill="none" stroke="#000" stroke-width="4.7"/>
<line x1="196.0" y1="1181.5" x2="196.0" y2="1193.9" stroke="#000" stroke-width="4.3"/>
<line x1="315.7" y1="1170.5" x2="315.7" y2="1193.9" stroke="#000" stroke-width="4.3"/>
<line x1="435.3" y1="1181.5" x2="435.3" y2="1193.9" stroke="#000" stroke-width="4.3"/>
<line x1="554.9" y1="1170.5" x2="554.9" y2="1193.9" stroke="#000" stroke-width="4.3"/>
<line x1="674.6" y1="1181.5" x2="674.6" y2="1193.9" stroke="#000" stroke-width="4.3"/>
<line x1="794.2" y1="1170.5" x2="794.2" y2="1193.9" stroke="#000" stroke-width="4.3"/>
<line x1="913.8" y1="1181.5" x2="913.8" y2="1193.9" stroke="#000" stroke-width="4.3"/>
<line x1="1033.5" y1="1170.5" x2="1033.5" y2="1193.9" stroke="#000" stroke-width="4.3"/>
<line x1="1153.1" y1="1181.5" x2="1153.1" y2="1193.9" stroke="#000" stroke-width="4.3"/>
<line x1="1272.8" y1="1170.5" x2="1272.8" y2="1193.9" stroke="#000" stroke-width="4.3"/>
<line x1="1392.4" y1="1181.5" x2="1392.4" y2="1193.9" stroke="#000" stroke-width="4.3"/>
<line x1="1512.0" y1="1170.5" x2="1512.0" y2="1193.9" stroke="#000" stroke-width="4.3"/>
<line x1="1631.7" y1="1181.5" x2="1631.7" y2="1193.9" stroke="#000" stroke-width="4.3"/>
<line x1="347.7" y1="550.7" x2="375.8" y2="550.7" stroke="#fe0000" stroke-width="5.4"/>
<line x1="400.5" y1="550.7" x2="429.5" y2="550.7" stroke="#fe0000" stroke-width="5.4"/>
<line x1="436.6" y1="568.4" x2="436.6" y2="596.9" stroke="#fe0000" stroke-width="5.4"/>
<line x1="436.6" y1="621.9" x2="436.6" y2="650.4" stroke="#fe0000" stroke-width="5.4"/>
<line x1="436.6" y1="675.4" x2="436.6" y2="703.9" stroke="#fe0000" stroke-width="5.4"/>
<line x1="436.6" y1="728.9" x2="436.6" y2="757.4" stroke="#fe0000" stroke-width="5.4"/>
<line x1="436.6" y1="782.4" x2="436.6" y2="810.9" stroke="#fe0000" stroke-width="5.4"/>
<line x1="436.6" y1="835.9" x2="436.6" y2="864.4" stroke="#fe0000" stroke-width="5.4"/>
<line x1="436.6" y1="889.4" x2="436.6" y2="917.9" stroke="#fe0000" stroke-width="5.4"/>
<line x1="436.6" y1="942.9" x2="436.6" y2="971.4" stroke="#fe0000" stroke-width="5.4"/>
<line x1="436.6" y1="996.4" x2="436.6" y2="1024.9" stroke="#fe0000" stroke-width="5.4"/>
<line x1="436.6" y1="1049.9" x2="436.6" y2="1078.4" stroke="#fe0000" stroke-width="5.4"/>
<line x1="398.0" y1="1093.3" x2="426.5" y2="1093.3" stroke="#fe0000" stroke-width="5.4"/>
<line x1="347.7" y1="1093.3" x2="373.0" y2="1093.3" stroke="#fe0000" stroke-width="5.4"/>
<line x1="350.4" y1="547.7" x2="350.4" y2="575.0" stroke="#fe0000" stroke-width="5.4"/>
<line x1="350.4" y1="600.5" x2="350.4" y2="629.0" stroke="#fe0000" stroke-width="5.4"/>
<line x1="350.4" y1="654.5" x2="350.4" y2="682.5" stroke="#fe0000" stroke-width="5.4"/>
<line x1="350.4" y1="707.7" x2="350.4" y2="735.5" stroke="#fe0000" stroke-width="5.4"/>
<line x1="350.4" y1="761.0" x2="350.4" y2="789.6" stroke="#fe0000" stroke-width="5.4"/>
<line x1="350.4" y1="815.0" x2="350.4" y2="843.3" stroke="#fe0000" stroke-width="5.4"/>
<line x1="350.4" y1="868.3" x2="350.4" y2="896.7" stroke="#fe0000" stroke-width="5.4"/>
<line x1="350.4" y1="923.3" x2="350.4" y2="951.7" stroke="#fe0000" stroke-width="5.4"/>
<line x1="350.4" y1="976.7" x2="350.4" y2="1005.0" stroke="#fe0000" stroke-width="5.4"/>
<line x1="350.4" y1="1030.0" x2="350.4" y2="1058.3" stroke="#fe0000" stroke-width="5.4"/>
<line x1="350.4" y1="1083.3" x2="350.4" y2="1096.3" stroke="#fe0000" stroke-width="5.4"/>
<line x1="992" y1="102.2" x2="992" y2="918.5" stroke="#fe0000" stroke-width="3.2" stroke-dasharray="15 12.75"/>
<text font-family="'Liberation Sans','DejaVu Sans',sans-serif" font-weight="bold" fill="#000" stroke-linejoin="round"><tspan x="25.90" y="1255.20" font-size="46.4" stroke="#fff" stroke-width="0.30" textLength="99.97" lengthAdjust="spacingAndGlyphs">4000</tspan></text>
<text font-family="'Liberation Sans','DejaVu Sans',sans-serif" font-weight="bold" fill="#000" stroke-linejoin="round"><tspan x="264.97" y="1255.20" font-size="46.4" stroke="#fff" stroke-width="0.30" textLength="101.58" lengthAdjust="spacingAndGlyphs">3500</tspan></text>
<text font-family="'Liberation Sans','DejaVu Sans',sans-serif" font-weight="bold" fill="#000" stroke-linejoin="round"><tspan x="504.24" y="1255.20" font-size="46.4" stroke="#fff" stroke-width="0.30" textLength="101.58" lengthAdjust="spacingAndGlyphs">3000</tspan></text>
<text font-family="'Liberation Sans','DejaVu Sans',sans-serif" font-weight="bold" fill="#000" stroke-linejoin="round"><tspan x="743.51" y="1255.20" font-size="46.4" stroke="#fff" stroke-width="0.30" textLength="101.58" lengthAdjust="spacingAndGlyphs">2500</tspan></text>
<text font-family="'Liberation Sans','DejaVu Sans',sans-serif" font-weight="bold" fill="#000" stroke-linejoin="round"><tspan x="982.79" y="1255.20" font-size="46.4" stroke="#fff" stroke-width="0.30" textLength="101.58" lengthAdjust="spacingAndGlyphs">2000</tspan></text>
<text font-family="'Liberation Sans','DejaVu Sans',sans-serif" font-weight="bold" fill="#000" stroke-linejoin="round"><tspan x="1220.06" y="1255.20" font-size="46.4" stroke="#fff" stroke-width="0.30" textLength="103.63" lengthAdjust="spacingAndGlyphs">1500</tspan></text>
<text font-family="'Liberation Sans','DejaVu Sans',sans-serif" font-weight="bold" fill="#000" stroke-linejoin="round"><tspan x="1459.33" y="1255.20" font-size="46.4" stroke="#fff" stroke-width="0.30" textLength="103.63" lengthAdjust="spacingAndGlyphs">1000</tspan></text>
<text font-family="'Liberation Sans','DejaVu Sans',sans-serif" font-weight="bold" fill="#000" stroke-linejoin="round"><tspan x="1712.00" y="1255.20" font-size="46.4" stroke="#fff" stroke-width="0.30" textLength="77.41" lengthAdjust="spacingAndGlyphs">500</tspan></text>
<text font-family="'Liberation Sans','DejaVu Sans',sans-serif" font-weight="bold" fill="#000" stroke-linejoin="round"><tspan x="126.00" y="654.00" font-size="43.4" stroke="#000" stroke-width="0.15" textLength="95.35" lengthAdjust="spacingAndGlyphs">TPEs</tspan></text>
<text font-family="'Liberation Sans','DejaVu Sans',sans-serif" font-weight="bold" fill="#000" stroke-linejoin="round"><tspan x="135.20" y="958.30" font-size="43.4" stroke="#000" stroke-width="0.15" textLength="89.46" lengthAdjust="spacingAndGlyphs">TSEs</tspan></text>
<text font-family="'Liberation Sans','DejaVu Sans',sans-serif" font-weight="bold" fill="#000" stroke-linejoin="round"><tspan x="105.00" y="1142.70" font-size="44.0" stroke="#fff" stroke-width="0.30" textLength="343.18" lengthAdjust="spacingAndGlyphs">pseudo-semi IPN</tspan></text>
<text font-family="'Liberation Sans','DejaVu Sans',sans-serif" font-weight="bold" fill="#000" stroke-linejoin="round"><tspan x="228.10" y="528.20" font-size="44.2" stroke="#fff" stroke-width="0.40" textLength="107.55" lengthAdjust="spacingAndGlyphs">(-NH)</tspan> <tspan x="348.40" y="528.20" font-size="44.2" stroke="#fff" stroke-width="0.40" textLength="98.73" lengthAdjust="spacingAndGlyphs">3338</tspan> <tspan x="460.00" y="528.20" font-size="44.0" stroke="#fff" stroke-width="0.30" textLength="59.35" lengthAdjust="spacingAndGlyphs">cm</tspan><tspan x="519.30" y="508.00" font-size="30.2" stroke="#fff" stroke-width="0.15" textLength="26.84" lengthAdjust="spacingAndGlyphs">-1</tspan></text>
<text font-family="'Liberation Sans','DejaVu Sans',sans-serif" font-weight="bold" fill="#000" stroke-linejoin="round"><tspan x="1023.40" y="195.70" font-size="44.2" stroke="#fff" stroke-width="0.40" textLength="63.93" lengthAdjust="spacingAndGlyphs">(-N</tspan><tspan x="1086.40" y="210.00" font-size="30.4" stroke="#fff" stroke-width="0.15" textLength="16.46" lengthAdjust="spacingAndGlyphs">3</tspan><tspan x="1105.00" y="195.70" font-size="44.2" stroke="#fff" stroke-width="0.40" textLength="12.45" lengthAdjust="spacingAndGlyphs">)</tspan> <tspan x="1130.60" y="195.70" font-size="44.2" stroke="#fff" stroke-width="0.40" textLength="99.13" lengthAdjust="spacingAndGlyphs">2100</tspan> <tspan x="1241.00" y="195.70" font-size="44.0" stroke="#fff" stroke-width="0.30" textLength="58.94" lengthAdjust="spacingAndGlyphs">cm</tspan><tspan x="1300.90" y="175.80" font-size="30.2" stroke="#fff" stroke-width="0.15" textLength="26.00" lengthAdjust="spacingAndGlyphs">-1</tspan></text>
<text font-family="'Liberation Sans','DejaVu Sans',sans-serif" font-weight="bold" fill="#000" stroke-linejoin="round"><tspan x="654.70" y="1346.90" font-size="53.8" stroke="#fff" stroke-width="0.10" textLength="437.97" lengthAdjust="spacingAndGlyphs">Wavenumber/cm</tspan><tspan x="1093.30" y="1322.80" font-size="38.3" stroke="#fff" stroke-width="0.10" textLength="31.09" lengthAdjust="spacingAndGlyphs">-1</tspan></text>
</g>
</svg>
</body></html>
